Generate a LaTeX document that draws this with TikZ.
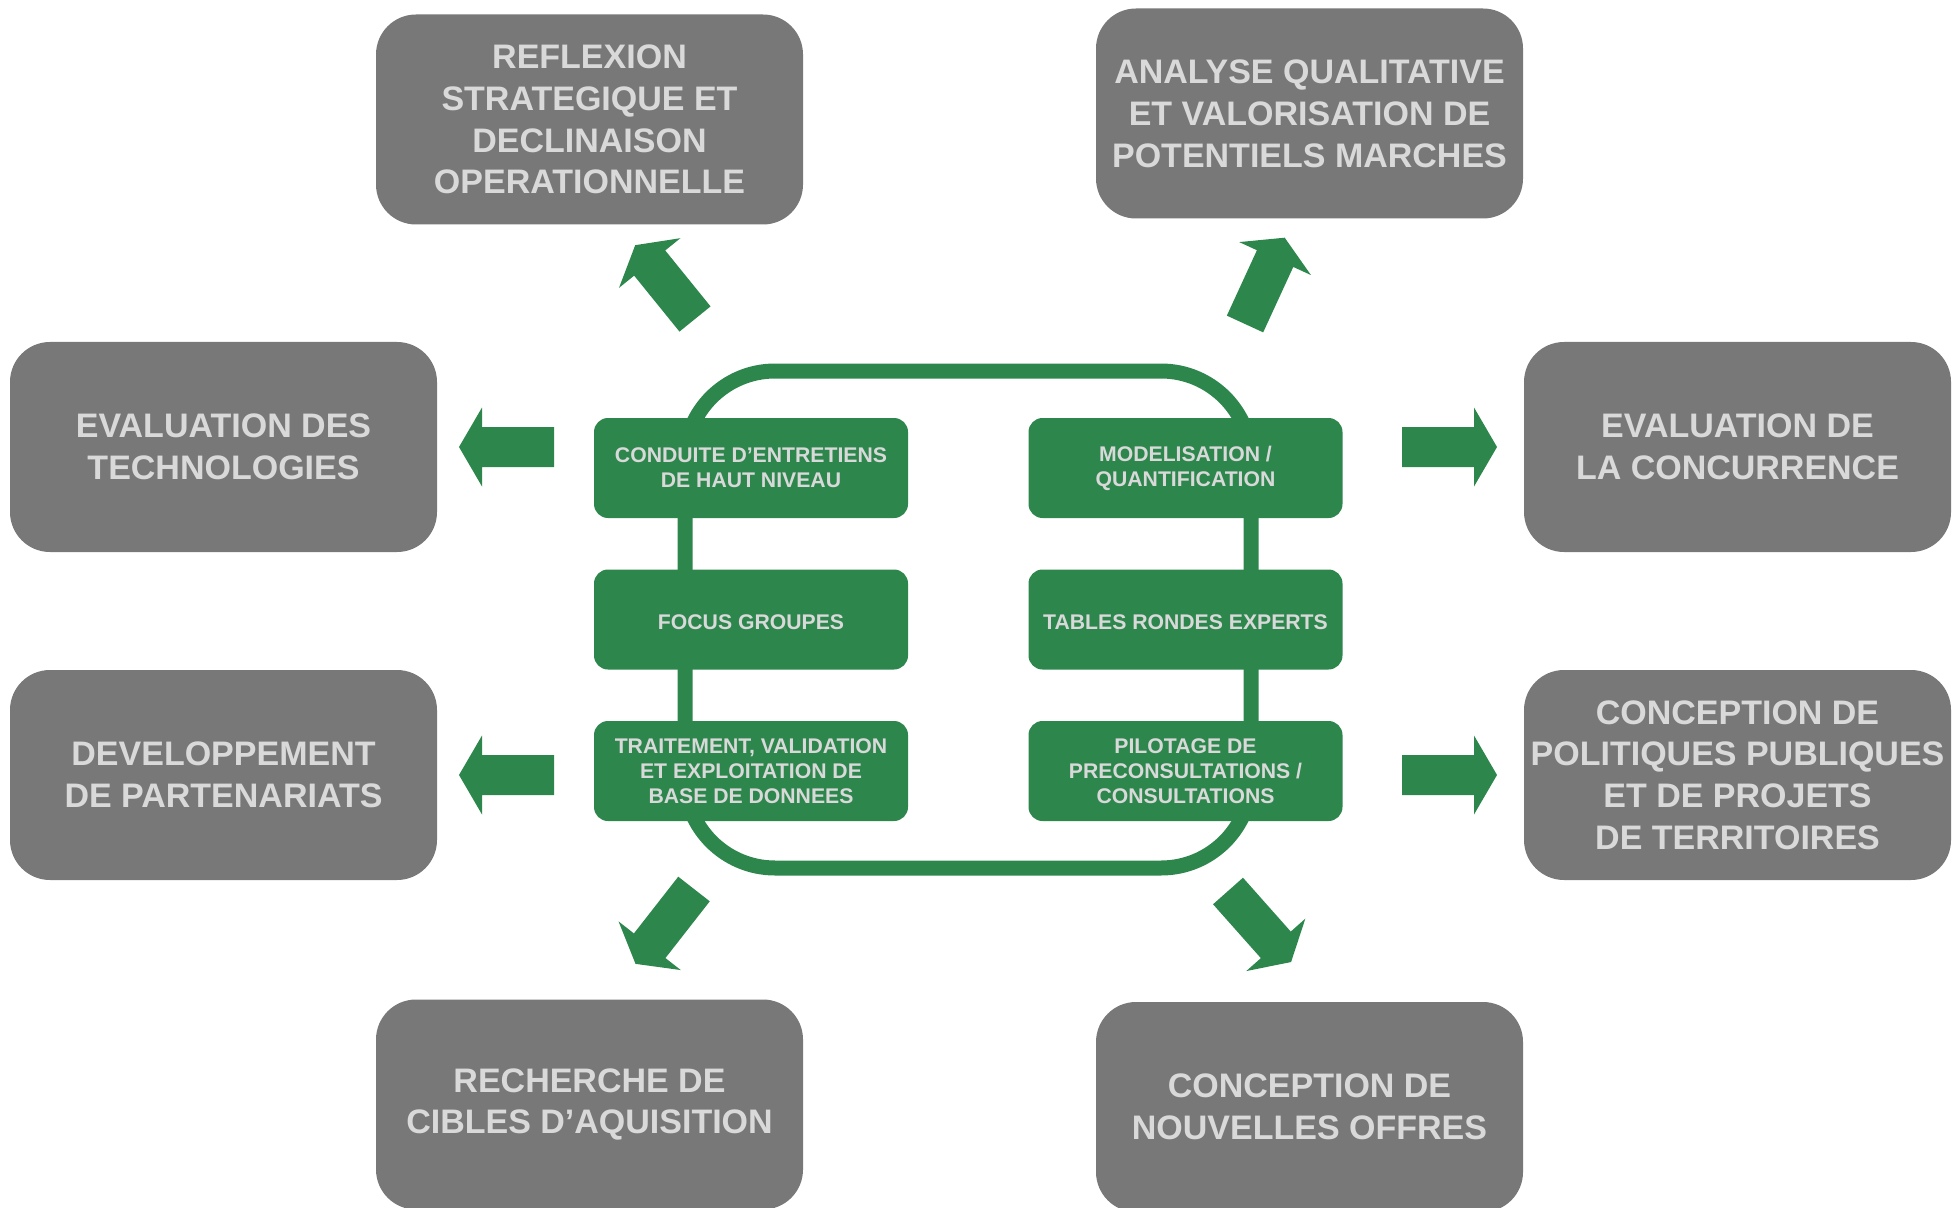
\documentclass[tikz,border=0pt]{standalone}
\usepackage{fontspec}
\setmainfont{Liberation Sans}
\definecolor{boxgray}{RGB}{120,120,120}
\definecolor{txtgray}{RGB}{217,217,217}
\definecolor{mygreen}{RGB}{45,135,77}
\begin{document}
\begin{tikzpicture}[x=0.5pt,y=-0.5pt,
  graybox/.style={fill=boxgray, rounded corners=20pt, minimum width=213.5pt, minimum height=105pt, inner sep=0pt, text=txtgray, align=center, font=\fontsize{17}{20.9}\selectfont\bfseries, execute at begin node={\rule{0pt}{14.7pt}}},
  greenbox/.style={fill=mygreen, rounded corners=7pt, minimum width=157pt, minimum height=50pt, inner sep=0pt, text=txtgray, align=center, font=\fontsize{10.6}{12.5}\selectfont\bfseries, execute at begin node={\rule{0pt}{9.6pt}}},
  loopline/.style={draw=mygreen, line width=7.5pt, rounded corners=45pt},
  blockarrow/.pic={\fill[mygreen] (0,-20) -- (72,-20) -- (72,-39.5) -- (95,0) -- (72,39.5) -- (72,20) -- (0,20) -- cycle;}
]
\useasboundingbox (0,0) rectangle (1952,1208);

% outer boxes
\node[graybox] (reflexion) at (589.5,119.5) {REFLEXION\\STRATEGIQUE ET\\DECLINAISON\\OPERATIONNELLE};
\node[graybox] (analyse) at (1309.5,113.5) {ANALYSE QUALITATIVE\\ET VALORISATION DE\\POTENTIELS MARCHES};
\node[graybox] (evaltech) at (223.5,447) {EVALUATION DES\\TECHNOLOGIES};
\node[graybox] (evalconc) at (1737.5,447) {EVALUATION DE\\LA CONCURRENCE};
\node[graybox] (devpart) at (223.5,775) {DEVELOPPEMENT\\DE PARTENARIATS};
\node[graybox] (concpol) at (1737.5,775) {CONCEPTION DE\\POLITIQUES PUBLIQUES\\ET DE PROJETS\\DE TERRITOIRES};
\node[graybox] (recherche) at (589.5,1104.5) {RECHERCHE DE\\CIBLES D’AQUISITION};
\node[graybox] (concnouv) at (1309.5,1107) {CONCEPTION DE\\NOUVELLES OFFRES};

% central loop
\draw[loopline] (685,371) rectangle (1251,868);

% central boxes
\node[greenbox] (conduite) at (751,468) {CONDUITE D’ENTRETIENS\\DE HAUT NIVEAU};
\node[greenbox] (focus) at (751,619.5) {FOCUS GROUPES};
\node[greenbox] (traitement) at (751,771) {TRAITEMENT, VALIDATION\\ET EXPLOITATION DE\\BASE DE DONNEES};
\node[greenbox] (modelisation) at (1185.5,468) {MODELISATION /\\QUANTIFICATION};
\node[greenbox] (tables) at (1185.5,619.5) {TABLES RONDES EXPERTS};
\node[greenbox] (pilotage) at (1185.5,771) {PILOTAGE DE\\PRECONSULTATIONS /\\CONSULTATIONS};

% block arrows
\pic[rotate=129] (aUL) at (695,319) {blockarrow};
\pic[rotate=65.3] (aUR) at (1245,324) {blockarrow};
\pic[rotate=232] (aLL) at (694,889) {blockarrow};
\pic[rotate=-48.4] (aLR) at (1228,891) {blockarrow};
\pic[rotate=180] (aL1) at (554,447) {blockarrow};
\pic[rotate=180] (aL2) at (554,775) {blockarrow};
\pic (aR1) at (1402,447) {blockarrow};
\pic (aR2) at (1402,775) {blockarrow};
\end{tikzpicture}
\end{document}
